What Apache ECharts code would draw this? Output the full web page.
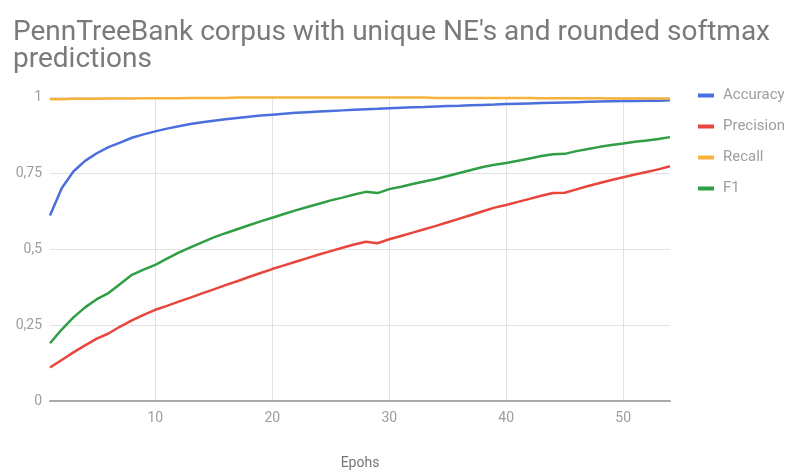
<!DOCTYPE html>
<html><head><meta charset="utf-8">
<script src="https://cdn.jsdelivr.net/npm/echarts@6/dist/echarts.min.js"></script>
<style>html,body{margin:0;padding:0;background:#fff}#c{width:793px;height:475px}</style>
</head><body><div id="c"></div>
<script>
const titleText = "PennTreeBank corpus with unique NE's and rounded softmax\npredictions";
const xAxisName = "Epohs";
const seriesNames = ["Accuracy", "Precision", "Recall", "F1"];
const epochs = [];
for (let i = 1; i <= 54; i++) epochs.push(i);
const xTickValues = [10, 20, 30, 40, 50];
const yTickValues = [0, 0.25, 0.5, 0.75, 1];

const accuracy = [0.61,0.70,0.755,0.79,0.815,0.835,0.85,0.866,0.877,0.887,0.896,0.904,0.911,0.917,0.922,0.927,0.931,0.935,0.939,0.942,0.945,0.948,0.950,0.952,0.954,0.956,0.958,0.960,0.961,0.963,0.965,0.966,0.967,0.969,0.970,0.971,0.973,0.974,0.975,0.977,0.978,0.979,0.980,0.981,0.982,0.983,0.984,0.985,0.986,0.987,0.987,0.988,0.988,0.989];
const precision = [0.11,0.135,0.16,0.183,0.205,0.222,0.245,0.265,0.283,0.30,0.313,0.327,0.340,0.354,0.367,0.381,0.394,0.408,0.421,0.434,0.446,0.458,0.470,0.482,0.493,0.504,0.515,0.524,0.519,0.532,0.543,0.554,0.565,0.576,0.588,0.600,0.612,0.624,0.636,0.645,0.655,0.665,0.675,0.684,0.685,0.696,0.707,0.717,0.727,0.736,0.745,0.753,0.762,0.772];
const recall = [0.993,0.993,0.994,0.994,0.994,0.995,0.995,0.995,0.996,0.996,0.996,0.996,0.997,0.997,0.997,0.997,0.998,0.998,0.998,0.998,0.998,0.998,0.998,0.998,0.998,0.998,0.998,0.998,0.998,0.998,0.998,0.998,0.998,0.997,0.997,0.997,0.997,0.997,0.997,0.997,0.997,0.997,0.996,0.996,0.996,0.996,0.996,0.996,0.995,0.995,0.995,0.995,0.995,0.994];
const f1 = [0.19,0.235,0.275,0.308,0.335,0.355,0.385,0.415,0.432,0.448,0.468,0.488,0.505,0.522,0.538,0.552,0.565,0.578,0.591,0.603,0.615,0.627,0.638,0.649,0.660,0.669,0.679,0.688,0.684,0.697,0.705,0.714,0.722,0.730,0.740,0.750,0.760,0.770,0.777,0.783,0.790,0.798,0.806,0.812,0.813,0.822,0.829,0.836,0.842,0.847,0.853,0.857,0.862,0.868];

const colors = ["#4a6fdc", "#e8453c", "#f6b23a", "#2f9e44"];
const values = [accuracy, precision, recall, f1];

const chart = echarts.init(document.getElementById('c'), null, {renderer: 'canvas'});
chart.setOption({
  backgroundColor: '#fff',
  animation: false,
  color: colors,
  title: {
    text: titleText,
    left: 8, top: 14,
    textStyle: {fontFamily: 'Roboto', fontWeight: 400, fontSize: 28, color: '#7a7a7a', lineHeight: 27}
  },
  legend: {
    orient: 'vertical',
    left: 693, top: 83,
    itemWidth: 16, itemHeight: 4, itemGap: 16,
    icon: 'rect',
    textStyle: {fontFamily: 'Roboto', fontSize: 15, color: '#9e9e9e', padding: [0,0,0,4]},
    data: seriesNames
  },
  grid: {left: 50, right: 123, top: 97, bottom: 64, containLabel: false},
  xAxis: {
    type: 'value', min: 1, max: 54,
    name: xAxisName, nameLocation: 'middle', nameGap: 55,
    nameTextStyle: {fontFamily: 'Roboto', fontSize: 14, color: '#757575'},
    axisLine: {show: true, lineStyle: {color: '#a8a8a8', width: 2}},
    axisTick: {show: false, customValues: xTickValues},
    axisLabel: {customValues: xTickValues, fontFamily: 'Roboto', fontSize: 14, color: '#9e9e9e', margin: 10},
    splitLine: {show: true, lineStyle: {color: '#e2e2e2', width: 1}}
  },
  yAxis: {
    type: 'value', min: 0, max: 1, interval: 0.25,
    axisLine: {show: false}, axisTick: {show: false},
    axisLabel: {fontFamily: 'Roboto', fontSize: 14, color: '#9e9e9e', margin: 8,
      formatter: v => String(v).replace('.', ',')},
    splitLine: {show: true, lineStyle: {color: '#e2e2e2', width: 1}}
  },
  series: seriesNames.map((n, i) => ({
    name: n, type: 'line', showSymbol: false, symbol: 'none',
    lineStyle: {width: 2.5, color: colors[i]},
    itemStyle: {color: colors[i]},
    data: epochs.map((e, j) => [e, values[i][j]])
  }))
});
</script></body></html>
